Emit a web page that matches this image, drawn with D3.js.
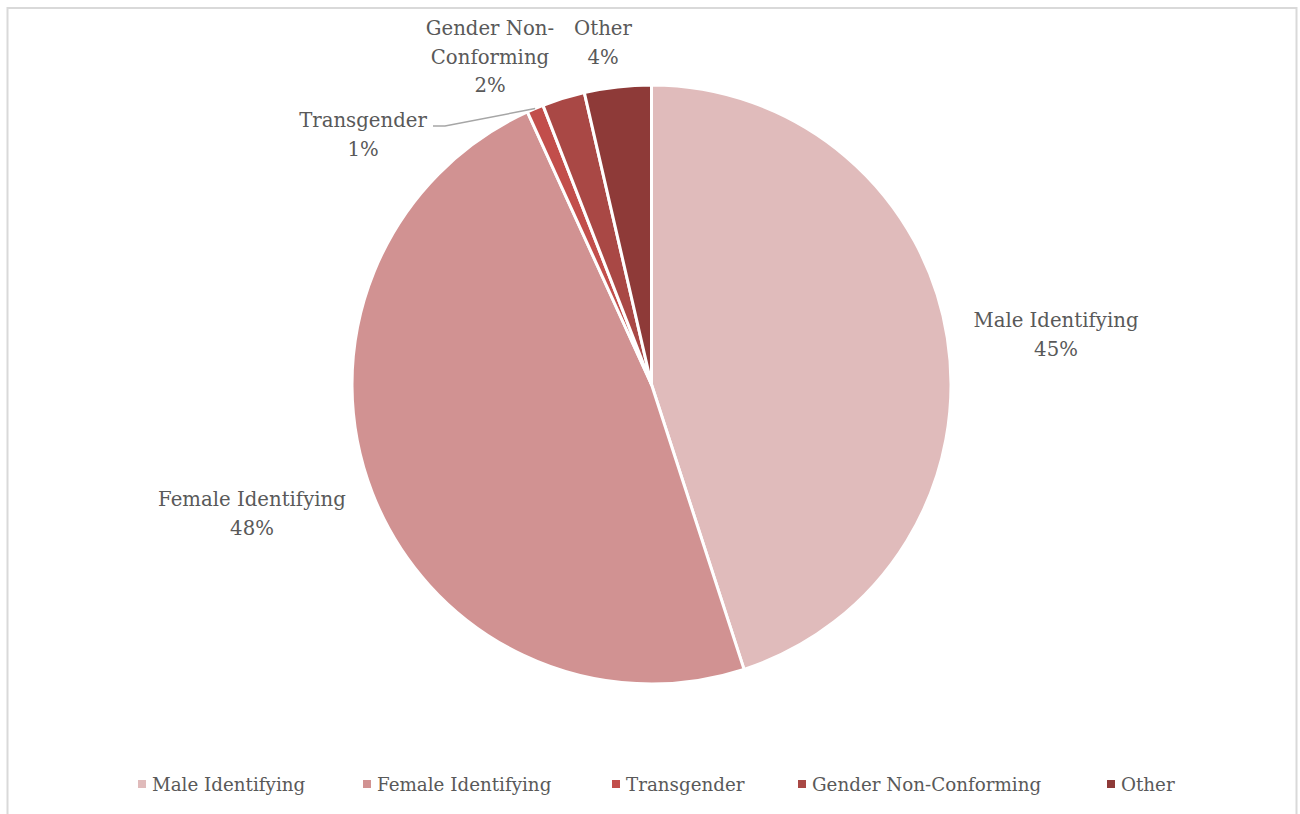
<!DOCTYPE html>
<html>
<head>
<meta charset="utf-8">
<script src="https://cdn.jsdelivr.net/npm/d3@7"></script>
<style>
  body { margin: 0; background: #fff; }
  text { font-family: "DejaVu Serif", serif; fill: #595959; }
</style>
</head>
<body>
<div id="chart"></div>
<script>
// data
var categories = ["Male Identifying", "Female Identifying", "Transgender", "Gender Non-Conforming", "Other"];
var shares = [45.0, 48.2, 0.9, 2.3, 3.6];
var pctLabels = ["45%", "48%", "1%", "2%", "4%"];

var colors = ["#e0bbbb", "#d19292", "#c24e4b", "#a94845", "#8e3a38"];

var svgWidth = 1300;
var svgHeight = 814;

var svg = d3.select("#chart")
  .append("svg")
  .attr("width", svgWidth)
  .attr("height", svgHeight);

// chart border (bottom runs off the page)
svg.append("rect")
  .attr("x", 7.5)
  .attr("y", 8)
  .attr("width", 1289)
  .attr("height", 830)
  .attr("fill", "none")
  .attr("stroke", "#d9d9d9")
  .attr("stroke-width", 2);

var cx = 651.5, cy = 384.5, radius = 299.5;

var pieGroup = svg.append("g")
  .attr("transform", `translate(${cx}, ${cy})`);

var pie = d3.pie().sort(null).value(d => d.value);
var arcs = pie(categories.map((c, i) => ({ name: c, value: shares[i], pct: pctLabels[i], color: colors[i] })));

var arc = d3.arc().innerRadius(0).outerRadius(radius);

pieGroup.selectAll("path")
  .data(arcs)
  .enter()
  .append("path")
  .attr("d", arc)
  .attr("fill", d => d.data.color)
  .attr("stroke", "#fff")
  .attr("stroke-width", 3)
  .attr("stroke-linejoin", "round");

// data label layout: centre x and first baseline, like Excel's best fit
var labelLayout = [
  [1056, 327], [252, 506], [363, 127], [490, 35], [603, 35]
];
var labelLines = [
  ["Male Identifying"], ["Female Identifying"], ["Transgender"], ["Gender Non-", "Conforming"], ["Other"]
];
var lineHeight = 28.5;

arcs.forEach(function(d, i) {
  var lines = labelLines[i].concat([d.data.pct]);
  var t = svg.append("text")
    .attr("text-anchor", "middle")
    .attr("font-size", 19.7);
  lines.forEach(function(s, j) {
    t.append("tspan")
      .attr("x", labelLayout[i][0])
      .attr("y", labelLayout[i][1] + j * lineHeight)
      .text(s);
  });
});

// leader line for the thin transgender slice
var tg = arcs[2];
var edge = d3.arc().innerRadius(radius).outerRadius(radius).centroid(tg);
var edgePt = [edge[0] + cx, edge[1] + cy];
svg.append("polyline")
  .attr("points", [[433, 126], [445, 126], edgePt].map(p => p.join(",")).join(" "))
  .attr("fill", "none")
  .attr("stroke", "#a6a6a6")
  .attr("stroke-width", 1.5);

// legend
var legendX = [138, 363, 612, 798, 1107];
var legend = svg.append("g").attr("transform", "translate(0, 784)");
categories.forEach(function(c, i) {
  legend.append("rect")
    .attr("x", legendX[i])
    .attr("y", -4)
    .attr("width", 8)
    .attr("height", 8)
    .attr("fill", colors[i]);
  legend.append("text")
    .attr("x", legendX[i] + 14)
    .attr("y", 7)
    .attr("font-size", 18.3)
    .text(c);
});
</script>
</body>
</html>
